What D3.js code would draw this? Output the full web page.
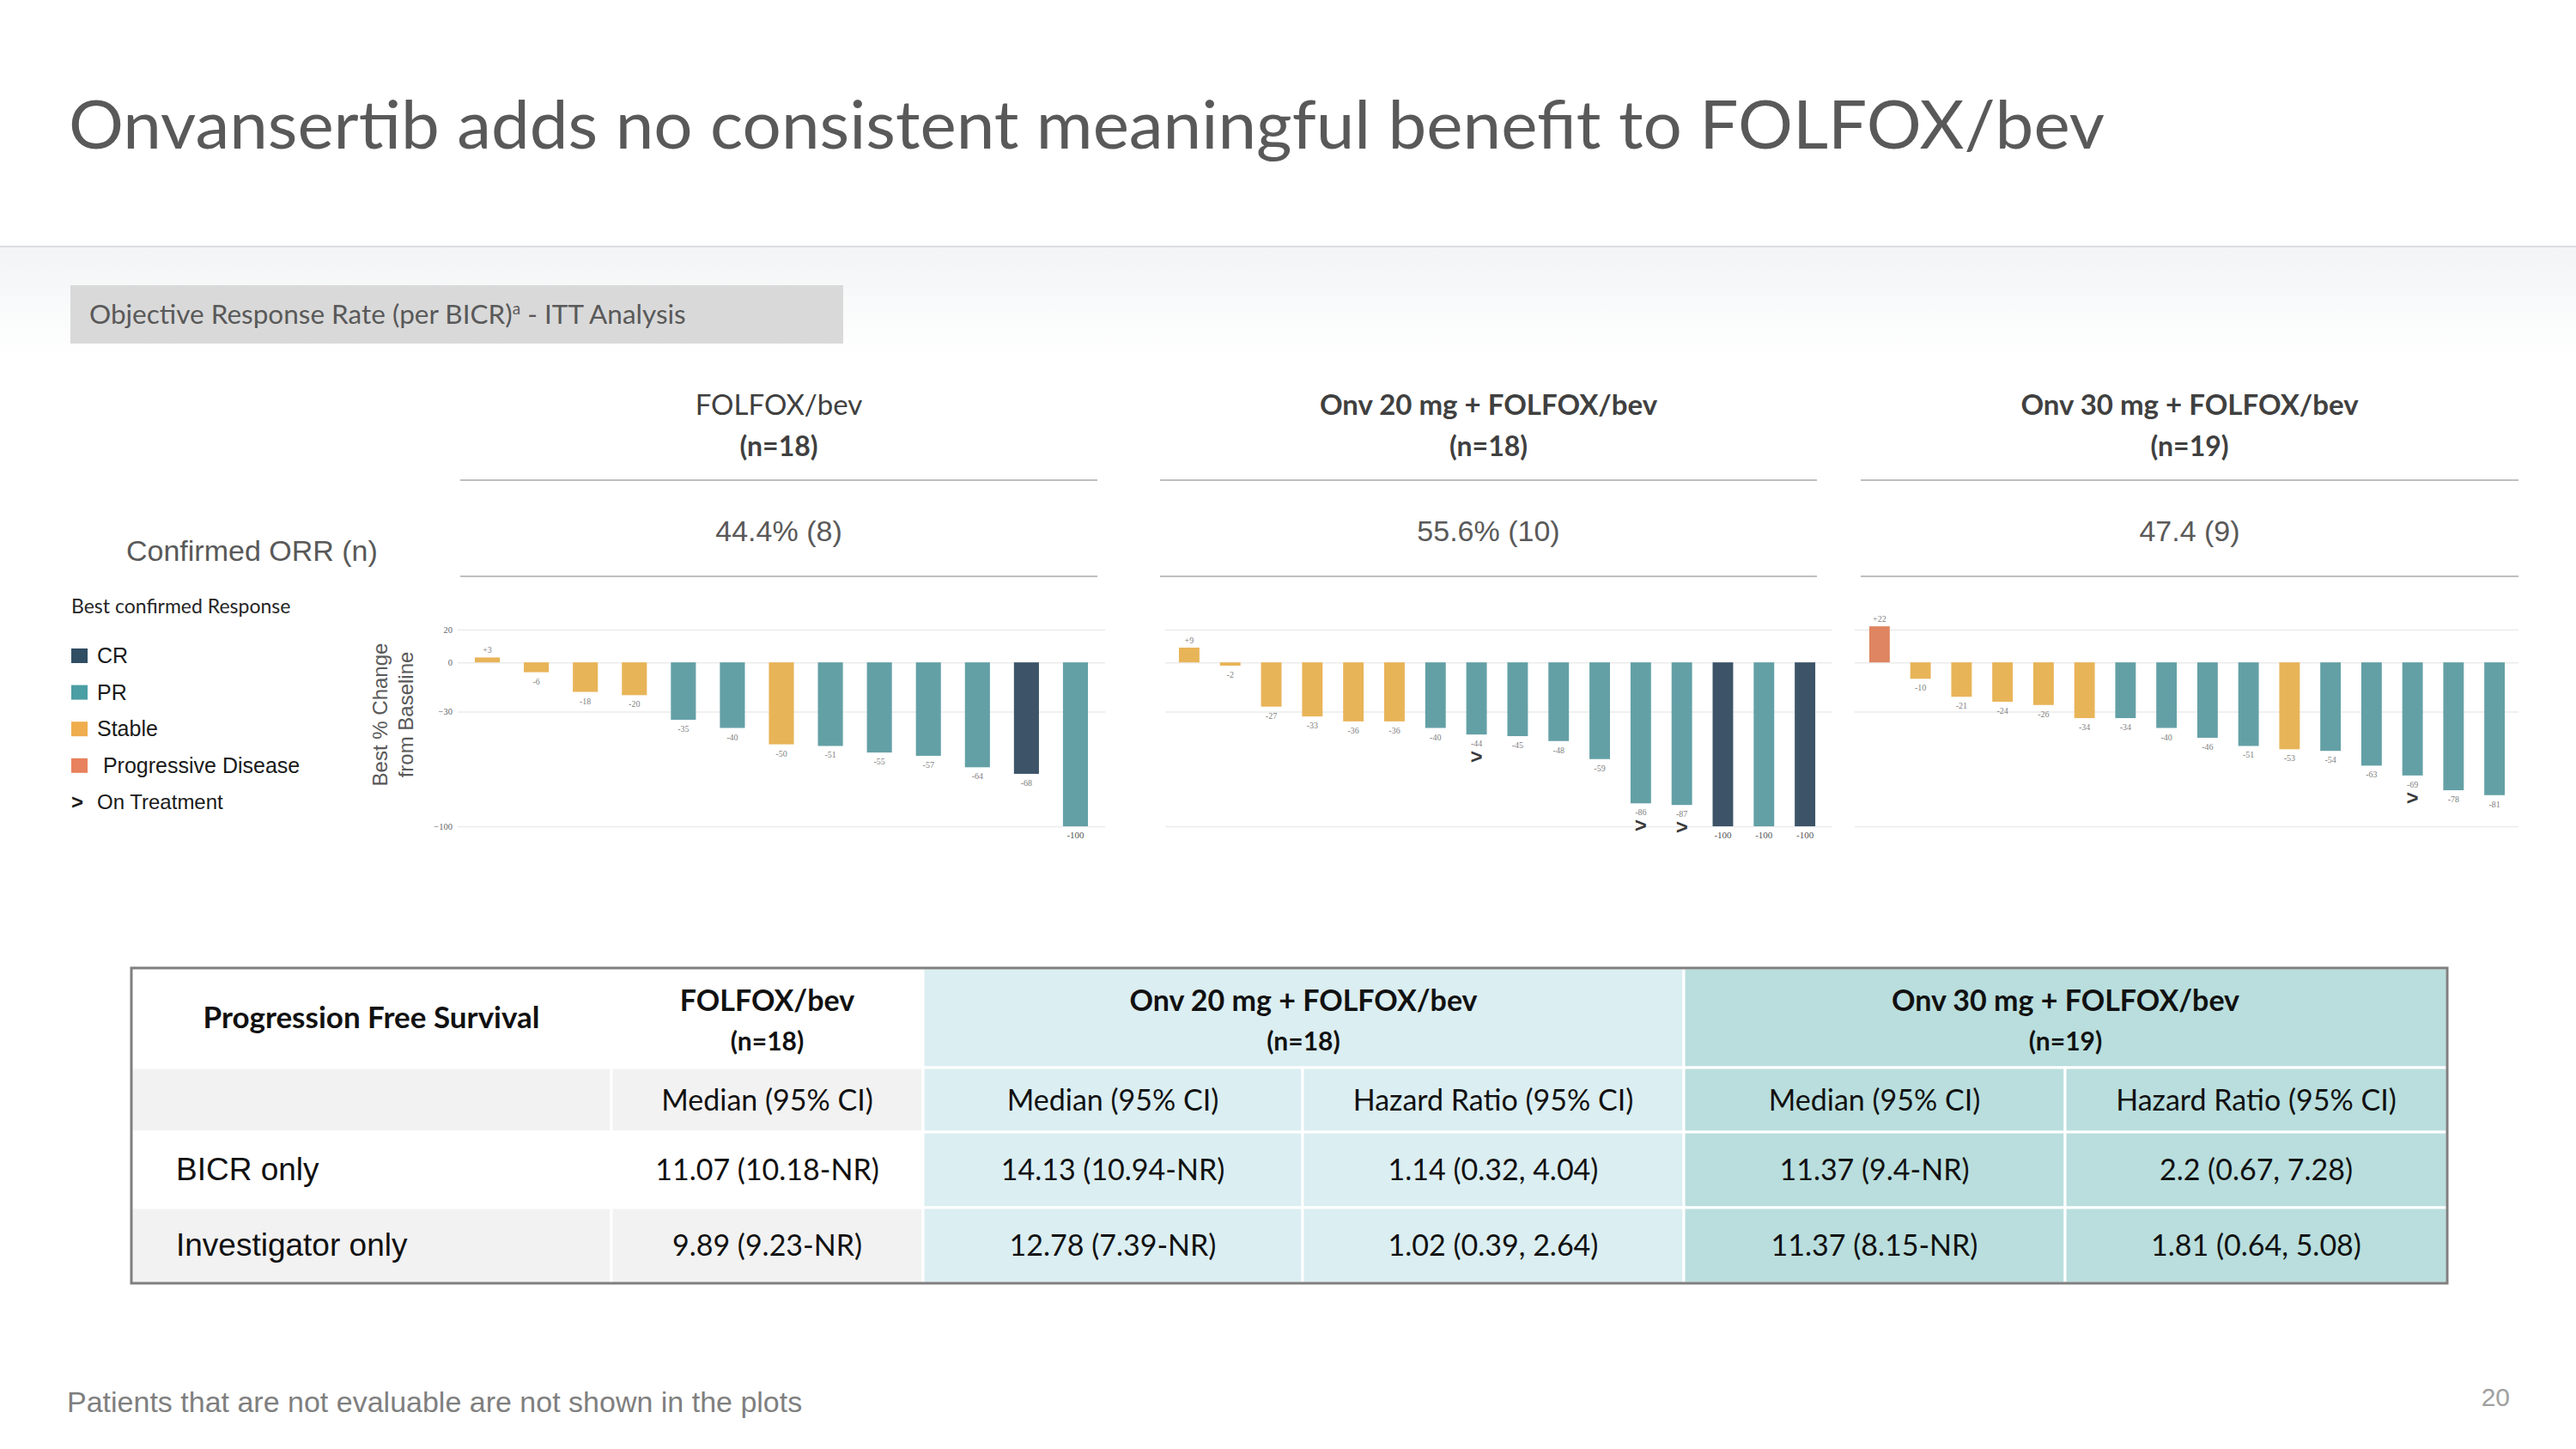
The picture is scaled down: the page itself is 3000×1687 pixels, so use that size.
<!DOCTYPE html>
<html>
<head>
<meta charset="utf-8">
<script src="https://cdn.jsdelivr.net/npm/d3@7"></script>
<style>
body { margin: 0; background: #fff; }
svg { display: block; }
</style>
</head>
<body>
<div id="chart"></div>
<script>
// ---- data ----
var armNames = ["FOLFOX/bev", "Onv 20 mg + FOLFOX/bev", "Onv 30 mg + FOLFOX/bev"];
var armN = ["(n=18)", "(n=18)", "(n=19)"];
var orrText = ["44.4% (8)", "55.6% (10)", "47.4 (9)"];

var folfoxChange = [3, -6, -18, -20, -35, -40, -50, -51, -55, -57, -64, -68, -100];
var folfoxResponse = ["SD", "SD", "SD", "SD", "PR", "PR", "SD", "PR", "PR", "PR", "PR", "CR", "PR"];
var folfoxOnTreatment = [0, 0, 0, 0, 0, 0, 0, 0, 0, 0, 0, 0, 0];

var onv20Change = [9, -2, -27, -33, -36, -36, -40, -44, -45, -48, -59, -86, -87, -100, -100, -100];
var onv20Response = ["SD", "SD", "SD", "SD", "SD", "SD", "PR", "PR", "PR", "PR", "PR", "PR", "PR", "CR", "PR", "CR"];
var onv20OnTreatment = [0, 0, 0, 0, 0, 0, 0, 1, 0, 0, 0, 1, 1, 0, 0, 0];

var onv30Change = [22, -10, -21, -24, -26, -34, -34, -40, -46, -51, -53, -54, -63, -69, -78, -81];
var onv30Response = ["PD", "SD", "SD", "SD", "SD", "SD", "PR", "PR", "PR", "PR", "SD", "PR", "PR", "PR", "PR", "PR"];
var onv30OnTreatment = [0, 0, 0, 0, 0, 0, 0, 0, 0, 0, 0, 0, 0, 1, 0, 0];

var yTicks = [20, 0, -30, -100];

var legendKeys = ["CR", "PR", "SD", "PD"];
var legendLabels = ["CR", "PR", "Stable", " Progressive Disease"];

var pfsRowLabels = ["BICR only", "Investigator only"];
var pfsSubHeaders = ["", "Median (95% CI)", "Median (95% CI)", "Hazard Ratio (95% CI)", "Median (95% CI)", "Hazard Ratio (95% CI)"];
var pfsMedianFolfox = ["11.07 (10.18-NR)", "9.89 (9.23-NR)"];
var pfsMedianOnv20 = ["14.13 (10.94-NR)", "12.78 (7.39-NR)"];
var pfsHrOnv20 = ["1.14 (0.32, 4.04)", "1.02 (0.39, 2.64)"];
var pfsMedianOnv30 = ["11.37 (9.4-NR)", "11.37 (8.15-NR)"];
var pfsHrOnv30 = ["2.2 (0.67, 7.28)", "1.81 (0.64, 5.08)"];

// ---- styles ----
var barColor = {CR: "#3d5468", PR: "#63a0a5", SD: "#e8b458", PD: "#df8561"};
var swatchColor = {CR: "#2f4d63", PR: "#4b9ea4", SD: "#efad4e", PD: "#e8815d"};
var calibri = "Lato, 'Open Sans', sans-serif";
var arial = "'Liberation Sans', Arial, sans-serif";
var times = "'Liberation Serif', 'Times New Roman', serif";

var W = 3000, H = 1687;
var svg = d3.select("#chart").append("svg")
    .attr("width", W)
    .attr("height", H);

var defs = svg.append("defs");
var grad = defs.append("linearGradient")
    .attr("id", "band")
    .attr("x1", 0).attr("y1", 0).attr("x2", 0).attr("y2", 1);
grad.append("stop").attr("offset", "0%").attr("stop-color", "#f2f4f5");
grad.append("stop").attr("offset", "100%").attr("stop-color", "#ffffff");

// title + header band
svg.append("text")
    .attr("x", 80)
    .attr("y", 173)
    .attr("font-family", calibri)
    .attr("font-size", 78)
    .attr("fill", "#595959")
    .attr("textLength", 2371)
    .attr("lengthAdjust", "spacingAndGlyphs")
    .text("Onvansertib adds no consistent meaningful benefit to FOLFOX/bev");

svg.append("rect")
    .attr("x", 0).attr("y", 288)
    .attr("width", W).attr("height", 130)
    .attr("fill", "url(#band)");
svg.append("line")
    .attr("x1", 0).attr("x2", W)
    .attr("y1", 287).attr("y2", 287)
    .attr("stroke", "#dcdee0")
    .attr("stroke-width", 2);

// sub title box
svg.append("rect")
    .attr("x", 82).attr("y", 332)
    .attr("width", 900).attr("height", 68)
    .attr("fill", "#d9d9d9");
var sub = svg.append("text")
    .attr("x", 104)
    .attr("y", 377)
    .attr("font-family", calibri)
    .attr("font-size", 31.5)
    .attr("fill", "#595959");
sub.append("tspan").text("Objective Response Rate (per BICR)");
sub.append("tspan").attr("font-size", 19).attr("dy", -11).text("a");
sub.append("tspan").attr("dy", 11).text("  - ITT Analysis");

// ---- arm headers / ORR ----
var headerCols = [[536, 1278], [1351, 2116], [2167, 2933]];

var heads = svg.selectAll(".armHead")
    .data(armNames)
    .enter().append("g")
    .attr("class", "armHead");

heads.append("text")
    .attr("x", function (d, i) { return (headerCols[i][0] + headerCols[i][1]) / 2; })
    .attr("y", 483)
    .attr("text-anchor", "middle")
    .attr("font-family", calibri)
    .attr("font-size", 33)
    .attr("font-weight", function (d, i) { return i == 0 ? "normal" : "bold"; })
    .attr("fill", "#404040")
    .text(function (d) { return d; });

heads.append("text")
    .attr("x", function (d, i) { return (headerCols[i][0] + headerCols[i][1]) / 2; })
    .attr("y", 531)
    .attr("text-anchor", "middle")
    .attr("font-family", calibri)
    .attr("font-size", 32)
    .attr("font-weight", "bold")
    .attr("fill", "#404040")
    .text(function (d, i) { return armN[i]; });

heads.append("text")
    .attr("x", function (d, i) { return (headerCols[i][0] + headerCols[i][1]) / 2; })
    .attr("y", 630)
    .attr("text-anchor", "middle")
    .attr("font-family", arial)
    .attr("font-size", 34)
    .attr("fill", "#595959")
    .text(function (d, i) { return orrText[i]; });

[559, 671].forEach(function (ly) {
    heads.append("line")
        .attr("x1", function (d, i) { return headerCols[i][0]; })
        .attr("x2", function (d, i) { return headerCols[i][1]; })
        .attr("y1", ly).attr("y2", ly)
        .attr("stroke", "#bfbfbf")
        .attr("stroke-width", 2);
});

svg.append("text")
    .attr("x", 147)
    .attr("y", 653)
    .attr("font-family", arial)
    .attr("font-size", 34)
    .attr("fill", "#595959")
    .text("Confirmed ORR (n)");

// ---- legend ----
svg.append("text")
    .attr("x", 83)
    .attr("y", 714)
    .attr("font-family", calibri)
    .attr("font-size", 23)
    .attr("fill", "#262626")
    .text("Best confirmed Response");

var legend = svg.selectAll(".legendItem")
    .data(legendKeys)
    .enter().append("g")
    .attr("class", "legendItem")
    .attr("transform", function (d, i) { return "translate(83," + (755 + i * 42.6) + ")"; });

legend.append("rect")
    .attr("width", 19)
    .attr("height", 17)
    .attr("fill", function (d) { return swatchColor[d]; });

legend.append("text")
    .attr("x", 30)
    .attr("y", 17)
    .attr("font-family", arial)
    .attr("font-size", 25)
    .attr("fill", "#1a1a1a")
    .attr("xml:space", "preserve")
    .text(function (d, i) { return legendLabels[i]; });

svg.append("text")
    .attr("x", 83)
    .attr("y", 942)
    .attr("font-family", arial)
    .attr("font-size", 24)
    .attr("font-weight", "bold")
    .attr("fill", "#1a1a1a")
    .text(">");
svg.append("text")
    .attr("x", 113)
    .attr("y", 942)
    .attr("font-family", arial)
    .attr("font-size", 24)
    .attr("fill", "#1a1a1a")
    .text("On Treatment");

// y axis title
var yTitle = svg.append("text")
    .attr("transform", "translate(451,832) rotate(-90)")
    .attr("text-anchor", "middle")
    .attr("font-family", arial)
    .attr("font-size", 24)
    .attr("fill", "#595959");
yTitle.append("tspan").attr("x", 0).attr("dy", 0).text("Best % Change");
yTitle.append("tspan").attr("x", 0).attr("dy", 30).text("from Baseline");

// ---- waterfall panels ----
var y = d3.scaleLinear()
    .domain([-100, 20])
    .range([962, 733]);

var panels = [
    {change: folfoxChange, resp: folfoxResponse, onTx: folfoxOnTreatment, grid: [533, 1287], band: [539, 1281], pad: 0.49, labels: true},
    {change: onv20Change, resp: onv20Response, onTx: onv20OnTreatment, grid: [1357, 2133], band: [1361, 2126], pad: 0.5, labels: false},
    {change: onv30Change, resp: onv30Response, onTx: onv30OnTreatment, grid: [2160, 2933], band: [2165, 2929], pad: 0.5, labels: false}
];

panels.forEach(function (p) {
    var g = svg.append("g");

    var x = d3.scaleBand()
        .domain(d3.range(p.change.length))
        .range(p.band)
        .paddingInner(p.pad)
        .paddingOuter(p.pad / 2);

    var yAxis = d3.axisLeft(y)
        .tickValues(yTicks)
        .tickSize(-(p.grid[1] - p.grid[0]))
        .tickPadding(6)
        .tickFormat(p.labels ? d3.format("d") : "");

    var axisG = g.append("g")
        .attr("class", "y-axis axis")
        .attr("transform", "translate(" + p.grid[0] + ",0)")
        .call(yAxis);
    axisG.select(".domain").remove();
    axisG.selectAll("line").attr("stroke", "#ebebeb").attr("stroke-width", 1.5);
    axisG.selectAll("text")
        .attr("font-family", times)
        .attr("font-size", 10.5)
        .attr("fill", "#666");

    var data = p.change.map(function (v, i) {
        return {i: i, v: v, r: p.resp[i], on: p.onTx[i]};
    });

    g.selectAll(".bar")
        .data(data)
        .enter().append("rect")
        .attr("class", "bar")
        .attr("x", function (d) { return x(d.i); })
        .attr("width", x.bandwidth())
        .attr("y", function (d) { return y(Math.max(0, d.v)); })
        .attr("height", function (d) { return Math.abs(y(d.v) - y(0)); })
        .attr("fill", function (d) { return barColor[d.r]; });

    g.selectAll(".valLabel")
        .data(data)
        .enter().append("text")
        .attr("class", "valLabel")
        .attr("x", function (d) { return x(d.i) + x.bandwidth() / 2; })
        .attr("y", function (d) { return d.v > 0 ? y(d.v) - 5 : y(d.v) + 14; })
        .attr("text-anchor", "middle")
        .attr("font-family", times)
        .attr("font-size", function (d) { return d.v == -100 ? 11 : 10; })
        .attr("fill", function (d) { return d.v == -100 ? "#555" : "#7f7f7f"; })
        .text(function (d) { return d.v > 0 ? "+" + d.v : d.v; });

    g.selectAll(".onTx")
        .data(data.filter(function (d) { return d.on; }))
        .enter().append("text")
        .attr("class", "onTx")
        .attr("x", function (d) { return x(d.i) + x.bandwidth() / 2; })
        .attr("y", function (d) { return y(d.v) + 34; })
        .attr("text-anchor", "middle")
        .attr("font-family", arial)
        .attr("font-size", 24)
        .attr("font-weight", "bold")
        .attr("fill", "#3a3a3a")
        .text(">");
});

// ---- PFS table ----
var colX = [153, 712, 1075, 1517, 1961, 2405, 2850];
var rowY = [1127, 1243, 1318, 1406, 1494];

function cellFill(r, c) {
    if (c >= 4) return "#b9dedd";
    if (c >= 2) return "#dbeef1";
    return (r == 1 || r == 3) ? "#f2f2f2" : "#ffffff";
}

var cells = [];
cells.push({r: 0, c0: 0, c1: 1, lines: ["Progression Free Survival"], head: true});
cells.push({r: 0, c0: 1, c1: 2, lines: [armNames[0], armN[0]], head: true});
cells.push({r: 0, c0: 2, c1: 4, lines: [armNames[1], armN[1]], head: true});
cells.push({r: 0, c0: 4, c1: 6, lines: [armNames[2], armN[2]], head: true});
pfsSubHeaders.forEach(function (t, c) {
    cells.push({r: 1, c0: c, c1: c + 1, lines: [t]});
});
pfsRowLabels.forEach(function (lab, k) {
    var vals = [lab, pfsMedianFolfox[k], pfsMedianOnv20[k], pfsHrOnv20[k], pfsMedianOnv30[k], pfsHrOnv30[k]];
    vals.forEach(function (t, c) {
        cells.push({r: 2 + k, c0: c, c1: c + 1, lines: [t], rowLabel: c == 0});
    });
});

var table = svg.append("g").attr("class", "pfs");

table.selectAll(".cell")
    .data(cells)
    .enter().append("rect")
    .attr("class", "cell")
    .attr("x", function (d) { return colX[d.c0]; })
    .attr("y", function (d) { return rowY[d.r]; })
    .attr("width", function (d) { return colX[d.c1] - colX[d.c0]; })
    .attr("height", function (d) { return rowY[d.r + 1] - rowY[d.r]; })
    .attr("fill", function (d) { return cellFill(d.r, d.c0); })
    .attr("stroke", "#ffffff")
    .attr("stroke-width", 3);

var cellText = table.selectAll(".cellText")
    .data(cells)
    .enter().append("text")
    .attr("class", "cellText")
    .attr("x", function (d) { return d.rowLabel ? 205 : (colX[d.c0] + colX[d.c1]) / 2; })
    .attr("text-anchor", function (d) { return d.rowLabel ? "start" : "middle"; })
    .attr("font-family", function (d) { return d.rowLabel ? arial : calibri; })
    .attr("font-size", function (d) { return d.rowLabel ? 37 : (d.c0 == 0 && d.head ? 35 : 34); })
    .attr("font-weight", function (d) { return d.head ? "bold" : "normal"; })
    .attr("fill", "#111");

cellText.each(function (d) {
    var t = d3.select(this);
    var mid = (rowY[d.r] + rowY[d.r + 1]) / 2;
    if (d.lines.length == 1) {
        t.attr("y", mid + 12).text(d.lines[0]);
    } else {
        t.append("tspan").attr("x", t.attr("x")).attr("y", 1177).text(d.lines[0]);
        t.append("tspan").attr("x", t.attr("x")).attr("y", 1223).attr("font-size", 30).text(d.lines[1]);
    }
});

table.append("rect")
    .attr("x", colX[0]).attr("y", rowY[0])
    .attr("width", colX[6] - colX[0])
    .attr("height", rowY[4] - rowY[0])
    .attr("fill", "none")
    .attr("stroke", "#7f7f7f")
    .attr("stroke-width", 3);

// footer
svg.append("text")
    .attr("x", 78)
    .attr("y", 1644)
    .attr("font-family", arial)
    .attr("font-size", 34)
    .attr("fill", "#7f7f7f")
    .text("Patients that are not evaluable are not shown in the plots");

svg.append("text")
    .attr("x", 2923)
    .attr("y", 1637)
    .attr("text-anchor", "end")
    .attr("font-family", arial)
    .attr("font-size", 30)
    .attr("fill", "#a0a0a0")
    .text("20");
</script>
</body>
</html>
